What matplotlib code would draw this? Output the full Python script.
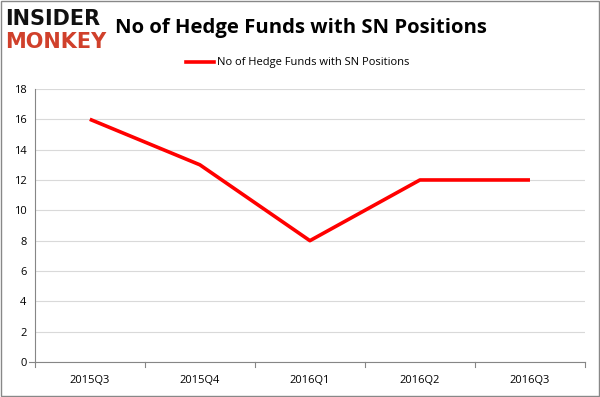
import matplotlib
matplotlib.use("Agg")
import matplotlib.pyplot as plt
from matplotlib.patches import Rectangle

plt.rcParams.update({"font.family": "Open Sans", "font.size": 8})

quarters = ["2015Q3", "2015Q4", "2016Q1", "2016Q2", "2016Q3"]
funds = [16, 13, 8, 12, 12]
series_name = "No of Hedge Funds with SN Positions"
title = "No of Hedge Funds with SN Positions"

fig = plt.figure(figsize=(6.0, 3.97), dpi=100)
ax = fig.add_axes([0.058, 0.088, 0.917, 0.688])

ax.plot(range(len(quarters)), funds, color="#ff0000", lw=2.6, solid_capstyle="butt")
ax.set_xlim(-0.5, len(quarters) - 0.5)
ax.set_ylim(0, 18)
ax.set_yticks(range(0, 19, 2))
ax.set_xticks(range(len(quarters)))
ax.set_xticklabels(quarters)
ax.grid(axis="y", color="#d9d9d9", lw=0.8)
ax.set_axisbelow(True)
for s in ["top", "right"]:
    ax.spines[s].set_visible(False)
for s in ["left", "bottom"]:
    ax.spines[s].set_color("#868686")
ax.tick_params(axis="y", length=0, pad=6, labelsize=8)
ax.tick_params(axis="x", length=0, pad=9, labelsize=8)
# category separator ticks on the x axis
for b in [i - 0.5 for i in range(len(quarters) + 1)]:
    ax.plot([b, b], [0, -0.35], color="#868686", lw=0.8, clip_on=False)
ax.plot([-0.5, -0.55], [0, 0], color="#868686", lw=0.8, clip_on=False)

# legend
fig.lines.append(plt.Line2D([0.31, 0.357], [0.843, 0.843], color="#ff0000", lw=2.6,
                            transform=fig.transFigure))
fig.text(0.362, 0.843, series_name, fontsize=8, va="center", ha="left")

# title and logo
fig.text(0.192, 0.93, title, fontsize=14.6, fontweight="bold", va="center", ha="left")
fig.text(0.008, 0.953, "INSIDER", fontsize=15, fontweight="heavy", color="#111111",
         va="center", ha="left", family="DejaVu Sans")
fig.text(0.008, 0.895, "MONKEY", fontsize=15, fontweight="heavy", color="#d0402b",
         va="center", ha="left", family="DejaVu Sans")

fig.patches.append(Rectangle((0.002, 0.003), 0.996, 0.994, transform=fig.transFigure,
                             fill=False, edgecolor="#888888", lw=1))

fig.savefig("out.png", dpi=100, facecolor="white")
